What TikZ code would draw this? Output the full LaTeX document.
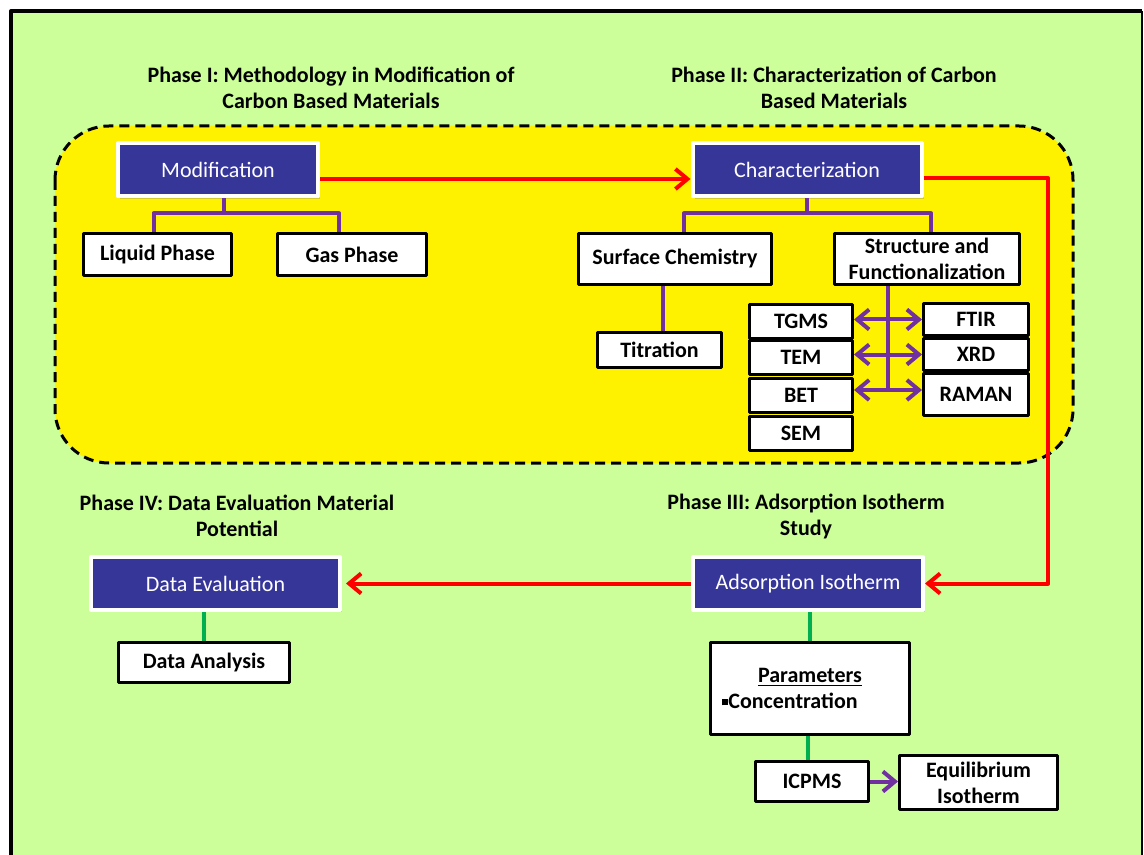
\documentclass[tikz,border=0pt]{standalone}
\usepackage{fontspec}
\setmainfont{Carlito}
\usetikzlibrary{arrows.meta,shadows}
\definecolor{bggreen}{HTML}{CCFF99}
\definecolor{boxblue}{HTML}{363699}
\definecolor{treepurple}{HTML}{7030A0}
\definecolor{linkgreen}{HTML}{00B050}
\begin{document}
\begin{tikzpicture}[x=.5pt,y=-.5pt,>={Straight Barb[length=6pt,width=10pt]},line join=round,
	font=\fontsize{11}{13}\selectfont\bfseries,
	bluebox/.style={draw=white,line width=2pt,fill=boxblue,text=white,font=\fontsize{11}{13}\selectfont,minimum height=26.5pt,drop shadow={shadow xshift=1pt,shadow yshift=-1.2pt,opacity=.35}},
	wbox/.style={draw=black,line width=1.5pt,fill=white,inner sep=2pt},
	heading/.style={align=center},
	tree/.style={draw=treepurple,line width=2pt},
	flow/.style={draw=red,line width=2pt},
	link/.style={draw=linkgreen,line width=2pt}]
	\clip (0,0) rectangle (1144,855);
	\fill[white] (0,0) rectangle (1144,855);
	\fill[bggreen] (11,11) rectangle (1142,870);
	\draw[line width=2pt] (11,870) -- (11,11) -- (1142,11);
	\draw[line width=1pt] (1142,11) -- (1142,870);
	% dashed phase I/II area
	\draw[fill=yellow,line width=1.5pt,dash pattern=on 5pt off 3pt,rounded corners=27pt] (55,126) rectangle (1073,463);
	% headings
	\node[heading] (ph1) at (331,88) {Phase I: Methodology in Modification of\\Carbon Based Materials};
	\node[heading] (ph2) at (834,88) {Phase II: Characterization of Carbon\\Based Materials};
	\node[heading] (ph4) at (237,516) {Phase IV: Data Evaluation Material\\Potential};
	\node[heading] (ph3) at (806,516) {Phase III: Adsorption Isotherm\\Study};
	% main blocks
	\node[bluebox,minimum width=100pt] (mod) at (218,170) {Modification};
	\node[bluebox,minimum width=114.5pt] (char) at (807,170) {Characterization};
	\node[bluebox,minimum width=115pt] (ads) at (808,583.5) {Adsorption Isotherm};
	\node[bluebox,minimum width=124.5pt] (deval) at (215.5,583.5) {Data Evaluation};
	% phase I
	\node[wbox,minimum width=74pt,minimum height=21pt] (liq) at (157.5,254.5) {Liquid Phase};
	\node[wbox,minimum width=74.5pt,minimum height=21pt] (gas) at (352,254.5) {Gas Phase};
	% phase II
	\node[wbox,minimum width=96.5pt,minimum height=25.5pt] (surf) at (675,259) {Surface Chemistry};
	\node[wbox,minimum width=92.5pt,minimum height=25.5pt,align=center] (struct) at (927,259) {Structure and\\Functionalization};
	\node[wbox,minimum width=62pt,minimum height=17.5pt] (titr) at (659.5,350) {Titration};
	\foreach \n/\t/\y in {tgms/TGMS/321.5,tem/TEM/357.5,bet/BET/395.5,sem/SEM/433.5}
		\node[wbox,minimum width=51.5pt,minimum height=17pt] (\n) at (801,\y) {\t};
	\foreach \n/\t/\y/\h in {ftir/FTIR/319.5/16pt,xrd/XRD/354.5/16pt,raman/RAMAN/394.5/21pt}
		\node[wbox,minimum width=52.5pt,minimum height=\h] (\n) at (976,\y) {\t};
	% phase III and IV
	\node[wbox,minimum width=85.5pt,minimum height=20pt] (danal) at (204,662.5) {Data Analysis};
	\node[wbox,minimum width=99.5pt,minimum height=46pt,align=center] (param) at (810,688.5)
		{\underline{Parameters}\\\rule[.15em]{3pt}{3pt}Concentration\hspace*{20pt}};
	\node[wbox,minimum width=56.5pt,minimum height=20pt] (icpms) at (812,781.5) {ICPMS};
	\node[wbox,minimum width=79pt,minimum height=27pt,align=center] (equil) at (978.5,782.5) {Equilibrium\\Isotherm};
	% purple trees
	\draw[tree] ([xshift=3pt]mod.south) -- ++(0,15) coordinate (modbar);
	\draw[tree] ([xshift=-2pt]liq.north) |- (modbar) -| ([xshift=-6.5pt]gas.north);
	\draw[tree] (char.south) -- ++(0,15) coordinate (charbar);
	\draw[tree] ([xshift=4.5pt]surf.north) |- (charbar) -| ([xshift=2pt]struct.north);
	\draw[tree] ([xshift=1.5pt]titr.north) -- ([xshift=1.5pt]titr.north |- surf.south);
	\draw[tree] ([xshift=-19.5pt]struct.south) -- ([xshift=-19.5pt]struct.south |- 0,390);
	\foreach \n/\m in {tgms/ftir,tem/xrd}
		\draw[tree,<->] (\m.west -| \n.east) -- (\m.west);
	\draw[tree,<->] (bet.east |- 0,390) -- (raman.west |- 0,390);
	% red flow
	\coordinate (bend) at (1048,178);
	\draw[flow,->] ([yshift=-4.5pt]mod.east) -- ([yshift=-4.5pt]char.west);
	\draw[flow,->] (char.east |- bend) -- (bend) |- (ads.east);
	\draw[flow,->,shorten >=2pt] (ads.west) -- (deval.east);
	% green links
	\draw[link] (danal.north) -- (danal.north |- deval.south);
	\draw[link] (param.north) -- (param.north |- ads.south);
	\draw[link] ([xshift=-2pt]icpms.north) -- ([xshift=-2pt]icpms.north |- param.south);
	\draw[tree,->] (icpms.east) -- (icpms.east -| equil.west);
\end{tikzpicture}
\end{document}
